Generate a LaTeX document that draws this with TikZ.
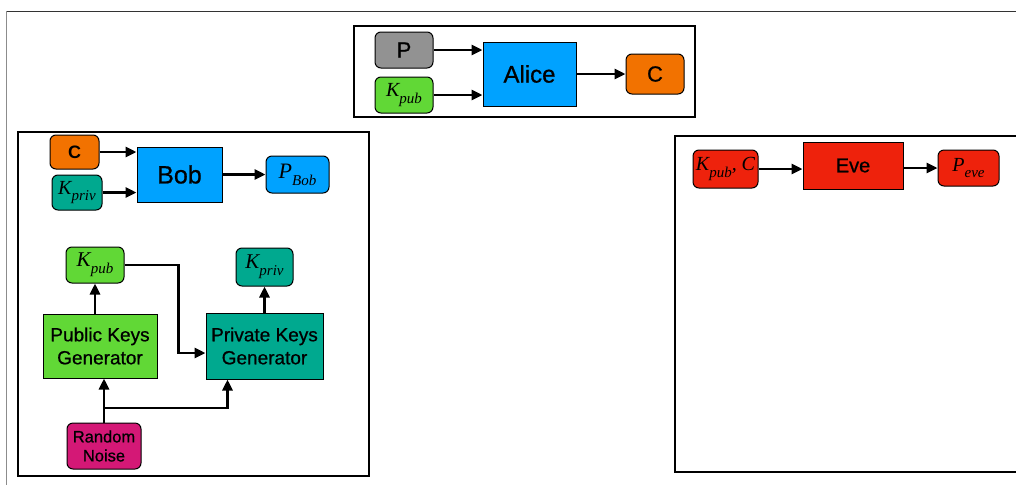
\documentclass[tikz,border=0pt]{standalone}
\usepackage{fontspec}
\setmainfont{Liberation Sans}[FakeBold=0.7]
\newfontfamily\heavyfont{Liberation Sans Bold}
\newfontfamily\tmsfont{Liberation Serif}
\usepackage{xcolor}
\definecolor{KeyGray}{HTML}{929292}
\definecolor{KeyGreen}{HTML}{61D836}
\definecolor{KeyBlue}{HTML}{00A2FF}
\definecolor{KeyOrange}{HTML}{F27200}
\definecolor{KeyTeal}{HTML}{00A98F}
\definecolor{KeyMagenta}{HTML}{D41876}
\definecolor{KeyRed}{HTML}{EE220C}
\usepackage{tikz}
\usetikzlibrary{arrows.meta,positioning}
% italic key symbol with a lowered subscript
\newcommand{\ksub}[2]{{\tmsfont\itshape #1\raisebox{-0.32em}{\fontsize{15}{15}\selectfont #2}}}

\begin{document}
\begin{tikzpicture}[x=1pt,y=-1pt,
  key/.style={draw,line width=1pt,rounded corners=6pt,inner sep=0pt,font=\fontsize{20}{22}\selectfont},
  proc/.style={draw,line width=1pt,inner sep=0pt,align=center},
  grp/.style={draw,line width=2pt},
  arr/.style={-{Triangle[length=11pt,width=10pt]},line width=2.7pt}]
\useasboundingbox (0,0) rectangle (1016,485);
\draw[line width=1pt,black!80] (6,11) -- (1016,11);
\draw[line width=1pt,black!45] (6,11) -- (6,485);

% encryption
\draw[grp] (354,26) rectangle (695,117);
\node[key,fill=KeyGray,minimum width=58pt,minimum height=36pt,font=\fontsize{22}{24}\selectfont] (p) at (404,50) {P};
\node[key,fill=KeyGreen,minimum width=58pt,minimum height=36pt] (kpubA) at (404,95) {\ksub{K}{pub}};
\node[proc,fill=KeyBlue,minimum width=93pt,minimum height=64pt,font=\fontsize{24}{26}\selectfont] (alice) at (529.5,74) {Alice};
\node[key,fill=KeyOrange,minimum width=58pt,minimum height=40pt,font=\fontsize{22}{24}\selectfont] (cA) at (655,74) {C};
\draw[arr] (p) -- (p -| alice.west);\draw[arr] (kpubA) -- (kpubA -| alice.west);\draw[arr] (alice) -- (cA);

% decryption and key generation
\draw[grp] (18,132) rectangle (369,476);
\node[key,fill=KeyOrange,minimum width=49pt,minimum height=34pt,font=\heavyfont\fontsize{18}{20}\selectfont] (cB) at (74.5,152) {C};
\node[key,fill=KeyTeal,minimum width=50pt,minimum height=35pt] (kprivB) at (77,192.5) {\ksub{K}{priv}};
\node[proc,fill=KeyBlue,minimum width=85pt,minimum height=55pt,font=\fontsize{25}{27}\selectfont] (bob) at (179.5,174.5) {Bob};
\node[key,fill=KeyBlue,minimum width=63pt,minimum height=37pt,font=\fontsize{22}{24}\selectfont] (pbob) at (297.5,174.5) {\ksub{P}{Bob}};
\draw[arr] (cB) -- (cB -| bob.west);\draw[arr] (kprivB) -- (kprivB -| bob.west);\draw[arr] (bob) -- (pbob);

\node[key,fill=KeyGreen,minimum width=58pt,minimum height=36pt,font=\fontsize{21}{23}\selectfont] (kpub) at (95,265) {\ksub{K}{pub}};
\node[key,fill=KeyTeal,minimum width=57pt,minimum height=38pt,font=\fontsize{21}{23}\selectfont] (kpriv) at (264.5,267) {\ksub{K}{priv}};
\node[proc,fill=KeyGreen,minimum width=114pt,minimum height=64pt,font=\fontsize{19}{23}\selectfont] (pubgen) at (100,346) {Public Keys\\Generator};
\node[proc,fill=KeyTeal,minimum width=117pt,minimum height=66pt,font=\fontsize{19}{23}\selectfont] (privgen) at (264.5,346) {Private Keys\\Generator};
\node[key,fill=KeyMagenta,minimum width=74pt,minimum height=46pt,align=center,font=\fontsize{16.5}{19}\selectfont] (noise) at (104,446) {Random\\Noise};
\coordinate (split) at (104,408);
\draw[arr] (pubgen.north -| kpub) -- (kpub);\draw[arr] (privgen.north -| kpriv) -- (kpriv);
\draw[arr] (kpub.east) -- ++(54,0) |- ([yshift=-7pt]privgen.west);
\draw[arr] (noise) -- (noise |- pubgen.south);\draw[arr] (split) -| ([xshift=-37pt]privgen.south);

% eavesdropper
\draw[grp] (1017,136) -- (675,136) -- (675,472) -- (1017,472);
\node[key,fill=KeyRed,minimum width=65pt,minimum height=38pt] (kpcE) at (725.5,169) {\ksub{K}{pub}{\tmsfont\itshape , C}};
\node[proc,fill=KeyRed,minimum width=100pt,minimum height=47pt,font=\fontsize{20}{22}\selectfont] (eve) at (853,165.5) {Eve};
\node[key,fill=KeyRed,minimum width=61pt,minimum height=36pt] (peve) at (968.5,168) {\ksub{P}{eve}};
\draw[arr] (kpcE) -- (kpcE -| eve.west);\draw[arr] (eve.east |- peve) -- (peve);
\end{tikzpicture}
\end{document}
